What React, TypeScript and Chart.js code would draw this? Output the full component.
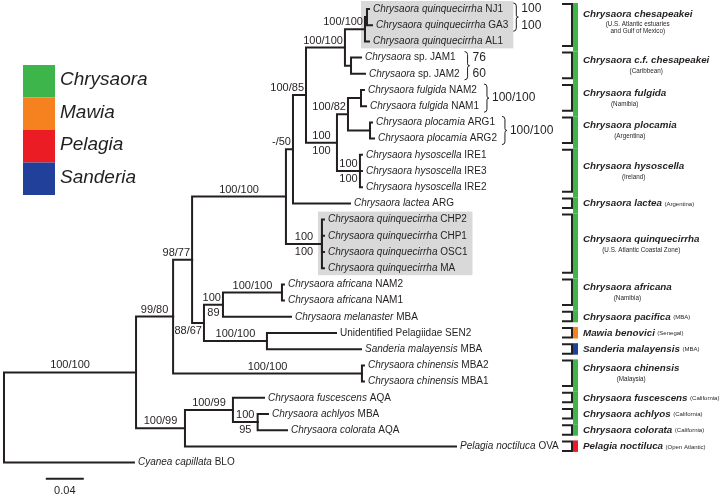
import React, { useEffect, useRef } from "react";
import { Chart, registerables } from "chart.js";

Chart.register(...registerables);

const FONT = '"Liberation Sans", Arial, Helvetica, sans-serif';
const INK = "#231f20";

// ---------- Leaves (top to bottom, row = index) ----------
const leafItalic = [
  "Chrysaora quinquecirrha", "Chrysaora quinquecirrha", "Chrysaora quinquecirrha",
  "Chrysaora", "Chrysaora",
  "Chrysaora fulgida", "Chrysaora fulgida",
  "Chrysaora plocamia", "Chrysaora plocamia",
  "Chrysaora hysoscella", "Chrysaora hysoscella", "Chrysaora hysoscella",
  "Chrysaora lactea",
  "Chrysaora quinquecirrha", "Chrysaora quinquecirrha", "Chrysaora quinquecirrha", "Chrysaora quinquecirrha",
  "Chrysaora africana", "Chrysaora africana",
  "Chrysaora melanaster",
  "",
  "Sanderia malayensis",
  "Chrysaora chinensis", "Chrysaora chinensis",
  "Chrysaora fuscescens",
  "Chrysaora achlyos",
  "Chrysaora colorata",
  "Pelagia noctiluca",
  "Cyanea capillata",
];
const leafPlain = [
  "NJ1", "GA3", "AL1",
  "sp. JAM1", "sp. JAM2",
  "NAM2", "NAM1",
  "ARG1", "ARG2",
  "IRE1", "IRE3", "IRE2",
  "ARG",
  "CHP2", "CHP1", "OSC1", "MA",
  "NAM2", "NAM1",
  "MBA",
  "Unidentified Pelagiidae SEN2",
  "MBA",
  "MBA2", "MBA1",
  "AQA",
  "MBA",
  "AQA",
  "OVA",
  "BLO",
];
// distance from root (substitutions/site)
const leafDepth = [
  0.3842, 0.3874, 0.3842,
  0.3758, 0.38,
  0.3789, 0.3811,
  0.3874, 0.3895,
  0.3768, 0.3768, 0.3768,
  0.3642,
  0.3368, 0.3368, 0.3368, 0.3368,
  0.2947, 0.2947,
  0.3021,
  0.3495,
  0.3758,
  0.3789, 0.3789,
  0.2737,
  0.2779,
  0.2979,
  0.4758,
  0.1368,
];
const leafParent = [46, 46, 45, 47, 47, 50, 50, 51, 51, 52, 52, 52, 42, 53, 53, 53, 53, 38, 38, 37, 39, 39, 40, 40, 33, 34, 34, 32, 29];

// ---------- Internal nodes (ids 29..53) ----------
const internalDepth = [
  0, 0.139, 0.178, 0.1905, 0.241, 0.267, 0.198, 0.2105, 0.2305, 0.2926, 0.2768, 0.3768, 0.2968,
  0.3042, 0.3179, 0.3589, 0.38, 0.3821, 0.3653, 0.3505, 0.3621, 0.3758, 0.3853, 0.3747, 0.3347,
];
const internalParent = [-1, 29, 30, 30, 32, 33, 31, 35, 36, 37, 36, 31, 35, 41, 42, 43, 44, 45, 44, 43, 48, 49, 49, 48, 41];

// ---------- Support values on branches ----------
const supportNode = [30, 31, 35, 36, 37, 37, 38, 39, 40, 32, 33, 34, 34, 41, 42, 53, 53, 43, 44, 45, 49, 48, 48, 52, 52];
const supportText = ["100/100", "99/80", "98/77", "88/67", "100", "89", "100/100", "100/100", "100/100", "100/99", "100/99", "100", "95", "100/100", "-/50", "100", "100", "100/85", "100/100", "100/100", "100/82", "100", "100", "100", "100"];
const supportSide = ["a", "a", "a", "b", "a", "b", "a", "a", "a", "a", "a", "a", "b", "a", "a", "a", "b", "a", "a", "a", "a", "a", "b", "a", "b"];

// ---------- Braced terminal supports ----------
const braceFirst = [0, 3, 5, 7];
const braceLast = [1, 4, 6, 8];
const braceText = [["100", "100"], ["76", "60"], ["100/100"], ["100/100"]];

// ---------- Grey highlight boxes ----------
const highlightNode = [45, 53];
const highlightFirst = [0, 13];
const highlightLast = [2, 16];

// ---------- Genera ----------
const genusNames = ["Chrysaora", "Mawia", "Pelagia", "Sanderia"];
const genusColors = ["#3db54a", "#f5821f", "#ec1c24", "#21409a"];

// ---------- Clade annotation column ----------
const cladeName = [
  "Chrysaora chesapeakei", "Chrysaora c.f. chesapeakei", "Chrysaora fulgida", "Chrysaora plocamia",
  "Chrysaora hysoscella", "Chrysaora lactea", "Chrysaora quinquecirrha", "Chrysaora africana",
  "Chrysaora pacifica", "Mawia benovici", "Sanderia malayensis", "Chrysaora chinensis",
  "Chrysaora fuscescens", "Chrysaora achlyos", "Chrysaora colorata", "Pelagia noctiluca",
];
const cladeNote = [
  ["(U.S. Atlantic estuaries", "and Gulf of Mexico)"], ["(Caribbean)"], ["(Namibia)"], ["(Argentina)"],
  ["(Ireland)"], ["(Argentina)"], ["(U.S. Atlantic Coastal Zone)"], ["(Namibia)"],
  ["(MBA)"], ["(Senegal)"], ["(MBA)"], ["(Malaysia)"],
  ["(California)"], ["(California)"], ["(California)"], ["(Open Atlantic)"],
];
const cladeNoteInline = [false, false, false, false, false, true, false, false, true, true, true, false, true, true, true, true];
const cladeFirst = [0, 3, 5, 7, 9, 12, 13, 17, 19, 20, 21, 22, 24, 25, 26, 27];
const cladeLast = [2, 4, 6, 8, 11, 12, 16, 18, 19, 20, 21, 23, 24, 25, 26, 27];
const cladeGenus = [0, 0, 0, 0, 0, 0, 0, 0, 0, 1, 3, 0, 0, 0, 0, 2];

// ---------- Scale bar ----------
const scaleBarStart = 0.044;
const scaleBarLength = 0.04;
const scaleBarLabel = "0.04";
const scaleBarRow = 29.0;
const scaleLabelRow = 29.75;

// ---------- derived tree layout ----------
const nLeaves = leafItalic.length;
const parentAll = [...leafParent, ...internalParent];
const depthAll = [...leafDepth, ...internalDepth];
const rootId = nLeaves + internalParent.indexOf(-1);
const children: number[][] = parentAll.map(() => []);
parentAll.forEach((p, i) => { if (p >= 0) children[p].push(i); });
const rowAll: number[] = new Array(parentAll.length).fill(0);
function layoutRow(i: number): number {
  if (i < nLeaves) { rowAll[i] = i; return i; }
  const rs = children[i].map(layoutRow);
  rowAll[i] = (Math.min(...rs) + Math.max(...rs)) / 2;
  return rowAll[i];
}
layoutRow(rootId);

function leafLabelEnds(ctx: CanvasRenderingContext2D, xs: any): number[] {
  return leafItalic.map((it, i) => {
    let x = xs.getPixelForValue(leafDepth[i]) + 4;
    if (it) { ctx.font = `italic 10px ${FONT}`; x += ctx.measureText(it).width; }
    ctx.font = `10px ${FONT}`;
    x += ctx.measureText((it ? " " : "") + leafPlain[i]).width;
    return x;
  });
}

const treePlugin = {
  id: "treeDecor",
  beforeDatasetsDraw(chart: any) {
    const ctx: CanvasRenderingContext2D = chart.ctx;
    const xs = chart.scales.x, ys = chart.scales.y;
    const ends = leafLabelEnds(ctx, xs);
    ctx.save();
    ctx.fillStyle = "#d9d9d9";
    highlightNode.forEach((nd, k) => {
      const left = xs.getPixelForValue(depthAll[nd]) - 4;
      let right = 0;
      for (let i = highlightFirst[k]; i <= highlightLast[k]; i++) right = Math.max(right, ends[i]);
      right += 5;
      const top = ys.getPixelForValue(highlightFirst[k]) - 8;
      const bot = ys.getPixelForValue(highlightLast[k]) + 7;
      ctx.fillRect(left, top, right - left, bot - top);
    });
    ctx.restore();
  },
  afterDatasetsDraw(chart: any) {
    const ctx: CanvasRenderingContext2D = chart.ctx;
    const xs = chart.scales.x, ys = chart.scales.y;
    const ends = leafLabelEnds(ctx, xs);
    ctx.save();
    ctx.fillStyle = INK;
    ctx.strokeStyle = INK;
    ctx.textBaseline = "middle";

    // leaf labels
    leafItalic.forEach((it, i) => {
      let x = xs.getPixelForValue(leafDepth[i]) + 4;
      const y = ys.getPixelForValue(i);
      ctx.textAlign = "left";
      if (it) { ctx.font = `italic 10px ${FONT}`; ctx.fillText(it, x, y); x += ctx.measureText(it).width; }
      ctx.font = `10px ${FONT}`;
      ctx.fillText((it ? " " : "") + leafPlain[i], x, y);
    });

    // support values
    ctx.font = `11px ${FONT}`;
    supportNode.forEach((nd, k) => {
      const p = parentAll[nd];
      const x1 = xs.getPixelForValue(depthAll[p]);
      const x2 = xs.getPixelForValue(depthAll[nd]);
      const y = ys.getPixelForValue(rowAll[nd]);
      const w = ctx.measureText(supportText[k]).width;
      const ty = supportSide[k] === "a" ? y - 7 : y + 8;
      if (w + 4 <= x2 - x1) { ctx.textAlign = "center"; ctx.fillText(supportText[k], (x1 + x2) / 2, ty); }
      else { ctx.textAlign = "right"; ctx.fillText(supportText[k], x2 - 2, ty); }
    });

    // braces
    ctx.lineWidth = 1;
    braceFirst.forEach((f, k) => {
      const l = braceLast[k];
      let bx = 0;
      for (let i = f; i <= l; i++) bx = Math.max(bx, ends[i]);
      bx += 5;
      const top = ys.getPixelForValue(f) - 6, bot = ys.getPixelForValue(l) + 6, mid = (top + bot) / 2;
      ctx.beginPath();
      ctx.moveTo(bx, top);
      ctx.quadraticCurveTo(bx + 3, top, bx + 3, top + 3);
      ctx.lineTo(bx + 3, mid - 2);
      ctx.quadraticCurveTo(bx + 3, mid, bx + 5, mid);
      ctx.quadraticCurveTo(bx + 3, mid, bx + 3, mid + 2);
      ctx.lineTo(bx + 3, bot - 3);
      ctx.quadraticCurveTo(bx + 3, bot, bx, bot);
      ctx.stroke();
      ctx.font = `12px ${FONT}`;
      ctx.textAlign = "left";
      const labels = braceText[k];
      if (labels.length === 1) ctx.fillText(labels[0], bx + 8, mid);
      else labels.forEach((t, j) => ctx.fillText(t, bx + 8, ys.getPixelForValue(f + j)));
    });

    // clade column
    cladeName.forEach((name, k) => {
      const top = ys.getPixelForValue(cladeFirst[k]) - 6;
      const bot = ys.getPixelForValue(cladeLast[k]) + 5.5;
      const center = (ys.getPixelForValue(cladeFirst[k]) + ys.getPixelForValue(cladeLast[k])) / 2;
      // colour bar, joined to next clade of the same genus
      let barBot = bot;
      if (k + 1 < cladeName.length && cladeGenus[k + 1] === cladeGenus[k]) barBot = ys.getPixelForValue(cladeFirst[k + 1]) - 6;
      ctx.fillStyle = genusColors[cladeGenus[k]];
      ctx.fillRect(573, top, 5, barBot - top);
      // bracket
      ctx.strokeStyle = INK;
      ctx.lineWidth = 2;
      ctx.beginPath();
      ctx.moveTo(562, top + 1);
      ctx.lineTo(572, top + 1);
      ctx.lineTo(572, bot - 1);
      ctx.lineTo(562, bot - 1);
      ctx.stroke();
      // text
      ctx.fillStyle = INK;
      ctx.font = `italic bold 9.8px ${FONT}`;
      ctx.textAlign = "left";
      const nw = ctx.measureText(name).width;
      const notes = cladeNote[k];
      if (cladeNoteInline[k]) {
        ctx.fillText(name, 583, center);
        ctx.font = `6px ${FONT}`;
        ctx.fillText(notes[0], 583 + nw + 2.5, center + 0.5);
      } else {
        const lines = notes.length;
        ctx.fillText(name, 583, center - 5 - 6 * (lines - 1));
        ctx.font = `6.3px ${FONT}`;
        ctx.textAlign = "center";
        notes.forEach((t, j) => ctx.fillText(t, 583 + nw / 2, center + 6 - 7 * (lines - 1 - j)));
      }
    });

    // scale bar label
    ctx.fillStyle = INK;
    ctx.font = `11px ${FONT}`;
    ctx.textAlign = "center";
    ctx.fillText(scaleBarLabel, xs.getPixelForValue(scaleBarStart + scaleBarLength / 2), ys.getPixelForValue(scaleLabelRow));

    // genus legend
    genusNames.forEach((g, k) => {
      const top = 65 + k * 32.5;
      ctx.fillStyle = genusColors[k];
      ctx.fillRect(23, top, 32, 32.5);
      ctx.fillStyle = INK;
      ctx.font = `italic 19px ${FONT}`;
      ctx.textAlign = "left";
      ctx.fillText(g, 60, top + 15);
    });
    ctx.restore();
  },
};

export default function App() {
  const ref = useRef<HTMLCanvasElement>(null);
  useEffect(() => {
    const datasets: any[] = [];
    parentAll.forEach((p, i) => {
      if (p < 0) return;
      datasets.push({
        data: [
          { x: depthAll[p], y: rowAll[p] },
          { x: depthAll[p], y: rowAll[i] },
          { x: depthAll[i], y: rowAll[i] },
        ],
        showLine: true,
        borderColor: INK,
        borderWidth: 2,
        borderJoinStyle: "miter",
        borderCapStyle: "square",
        pointRadius: 0,
        fill: false,
        tension: 0,
      });
    });
    datasets.push({
      data: [
        { x: scaleBarStart, y: scaleBarRow },
        { x: scaleBarStart + scaleBarLength, y: scaleBarRow },
      ],
      showLine: true,
      borderColor: INK,
      borderWidth: 2,
      pointRadius: 0,
      fill: false,
    });
    const chart = new Chart(ref.current as HTMLCanvasElement, {
      type: "scatter",
      data: { datasets },
      options: {
        animation: false,
        responsive: true,
        maintainAspectRatio: false,
        layout: { padding: 0 },
        plugins: { legend: { display: false }, tooltip: { enabled: false } },
        scales: {
          x: { type: "linear", display: false, min: -0.0042, max: 0.7537 },
          y: { type: "linear", display: false, reverse: true, min: -0.556, max: 30.185 },
        },
      },
      plugins: [treePlugin],
    } as any);
    return () => chart.destroy();
  }, []);
  return (
    <div style={{ position: "absolute", left: 0, top: 0, width: 720, height: 498, background: "#fff" }}>
      <canvas ref={ref} />
    </div>
  );
}
